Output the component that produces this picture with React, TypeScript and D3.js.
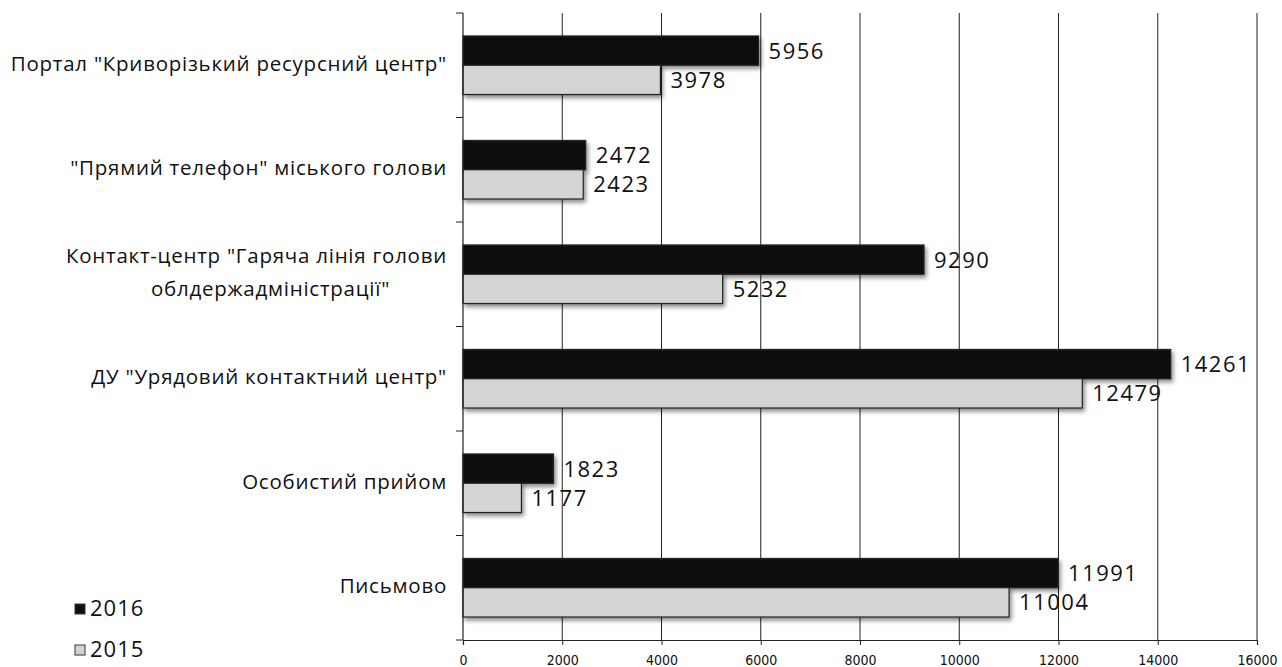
import { useEffect, useRef } from 'react';
import * as d3 from 'd3';

// категорії (зверху вниз) та значення
const categories = [
  ['Портал "Криворізький ресурсний центр"'],
  ['"Прямий телефон"  міського голови'],
  ['Контакт-центр "Гаряча лінія голови', 'облдержадміністрації"'],
  ['ДУ "Урядовий контактний центр"'],
  ['Особистий прийом'],
  ['Письмово'],
];
const values2016 = [5956, 2472, 9290, 14261, 1823, 11991];
const values2015 = [3978, 2423, 5232, 12479, 1177, 11004];
const seriesNames = ['2016', '2015'];
const xTicks = [0, 2000, 4000, 6000, 8000, 10000, 12000, 14000, 16000];

const FONT = '"Open Sans", Lato, sans-serif';
const COLORS = ['#111111', '#d4d4d4'];

export default function App() {
  const svgRef = useRef<SVGSVGElement>(null);
  const width = 1282;
  const height = 667;

  useEffect(() => {
    if (!svgRef.current) return;
    const svg = d3.select(svgRef.current);
    svg.selectAll('*').remove();

    const margin = { top: 13, right: 25, bottom: 27, left: 463 };
    const plotW = width - margin.left - margin.right;
    const plotH = height - margin.top - margin.bottom;

    const x = d3.scaleLinear().domain([0, 16000]).range([0, plotW]);
    const y = d3.scaleBand<number>().domain(d3.range(categories.length)).range([0, plotH]).paddingInner(0.44).paddingOuter(0.22);
    const ySeries = d3.scaleBand<number>().domain([0, 1]).range([0, y.bandwidth()]);
    const yCat = d3.scaleBand<number>().domain(d3.range(categories.length)).range([0, plotH]);

    const defs = svg.append('defs');
    const f = defs.append('filter').attr('id', 'shadow').attr('x', '-5%').attr('y', '-20%').attr('width', '115%').attr('height', '160%');
    f.append('feDropShadow').attr('dx', 2).attr('dy', 3).attr('stdDeviation', 2).attr('flood-color', '#000').attr('flood-opacity', 0.45);

    const g = svg.append('g').attr('transform', `translate(${margin.left},${margin.top})`);

    // вертикальна сітка
    g.selectAll('.grid')
      .data(xTicks.slice(1))
      .enter()
      .append('line')
      .attr('x1', (d) => x(d))
      .attr('x2', (d) => x(d))
      .attr('y1', 0)
      .attr('y2', plotH)
      .attr('stroke', '#222')
      .attr('stroke-width', 1);

    // бари
    const seriesData = [values2016, values2015];
    seriesData.forEach((vals, s) => {
      g.selectAll(`.bar-${s}`)
        .data(vals)
        .enter()
        .append('rect')
        .attr('x', 0)
        .attr('y', (_, i) => (y(i) ?? 0) + (ySeries(s) ?? 0))
        .attr('width', (d) => x(d))
        .attr('height', ySeries.bandwidth())
        .attr('fill', COLORS[s])
        .attr('stroke', '#222')
        .attr('stroke-width', 1.2)
        .attr('filter', 'url(#shadow)');

      g.selectAll(`.label-${s}`)
        .data(vals)
        .enter()
        .append('text')
        .attr('x', (d) => x(d) + 10)
        .attr('y', (_, i) => (y(i) ?? 0) + (ySeries(s) ?? 0) + ySeries.bandwidth() / 2 + 2)
        .attr('dominant-baseline', 'middle')
        .attr('font-family', FONT)
        .attr('font-size', '22px')
        .attr('letter-spacing', '1.5px')
        .attr('fill', '#111')
        .text((d) => String(d));
    });

    // вісь Y
    g.append('line')
      .attr('x1', 0).attr('x2', 0).attr('y1', 0).attr('y2', plotH)
      .attr('stroke', '#222').attr('stroke-width', 1.2);
    g.selectAll('.ytick')
      .data(d3.range(categories.length + 1))
      .enter()
      .append('line')
      .attr('x1', -7).attr('x2', 0)
      .attr('y1', (d) => (d < categories.length ? yCat(d) ?? 0 : plotH))
      .attr('y2', (d) => (d < categories.length ? yCat(d) ?? 0 : plotH))
      .attr('stroke', '#222');

    // вісь X
    const xAxis = g.append('g')
      .attr('transform', `translate(0,${plotH})`)
      .call(d3.axisBottom(x).tickValues(xTicks).tickSize(5).tickPadding(10).tickFormat((d) => String(d)));
    xAxis.select('.domain').attr('stroke', '#222').attr('stroke-width', 1.2);
    xAxis.selectAll('.tick line').attr('stroke', '#222');
    xAxis.selectAll('.tick text')
      .attr('font-family', '"Liberation Sans Narrow", "DejaVu Sans Condensed", sans-serif')
      .attr('font-size', '14px')
      .attr('fill', '#111');

    // підписи категорій
    categories.forEach((lines, i) => {
      const cy = (yCat(i) ?? 0) + yCat.bandwidth() / 2;
      const first = g.append('text')
        .attr('x', -16)
        .attr('y', cy - ((lines.length - 1) / 2) * 33)
        .attr('text-anchor', 'end')
        .attr('dominant-baseline', 'middle')
        .attr('font-family', FONT)
        .attr('font-size', '20.5px')
        .attr('letter-spacing', '0.75px')
        .attr('fill', '#111')
        .text(lines[0]);
      const w = (first.node() as SVGTextElement).getComputedTextLength();
      lines.slice(1).forEach((line, j) => {
        g.append('text')
          .attr('x', -16 - w / 2 + 14)
          .attr('y', cy - ((lines.length - 1) / 2) * 33 + (j + 1) * 33)
          .attr('text-anchor', 'middle')
          .attr('dominant-baseline', 'middle')
          .attr('font-family', FONT)
          .attr('font-size', '20.5px')
          .attr('letter-spacing', '0.75px')
          .attr('fill', '#111')
          .text(line);
      });
    });

    // легенда
    const legend = svg.append('g').attr('transform', 'translate(75,609)');
    seriesNames.forEach((name, i) => {
      const row = legend.append('g').attr('transform', `translate(0,${i * 41})`);
      row.append('rect')
        .attr('x', 0).attr('y', -5).attr('width', 10).attr('height', 10)
        .attr('fill', COLORS[i]).attr('stroke', '#333');
      row.append('text')
        .attr('x', 15).attr('y', 1)
        .attr('dominant-baseline', 'middle')
        .attr('font-family', FONT)
        .attr('font-size', '22px')
        .attr('letter-spacing', '1px')
        .attr('fill', '#111')
        .text(name);
    });
  }, []);

  return (
    <svg
      ref={svgRef}
      width={width}
      height={height}
      style={{ position: 'absolute', left: 0, top: 0, background: '#fff' }}
    />
  );
}
